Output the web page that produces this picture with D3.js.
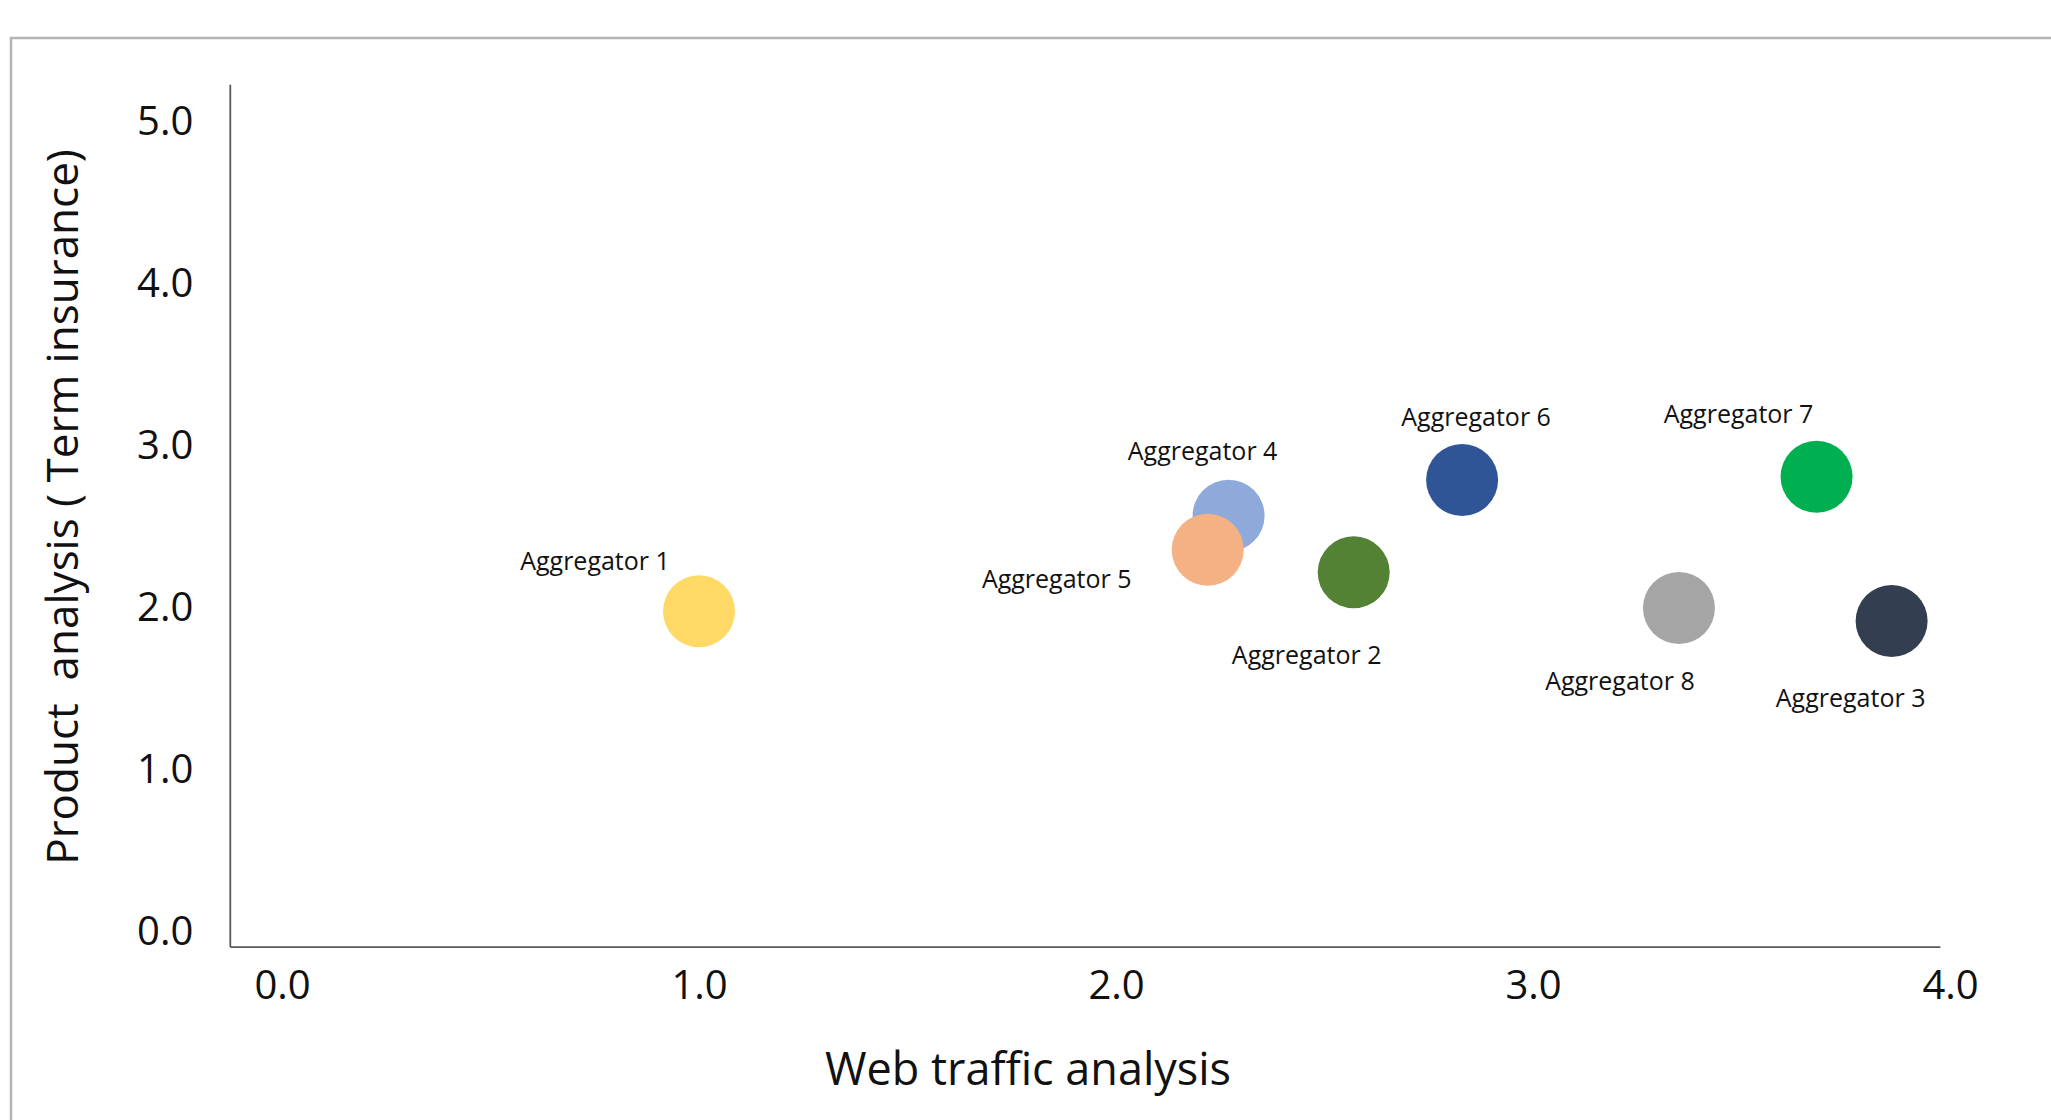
<!DOCTYPE html>
<html>
<head>
<meta charset="utf-8">
<script src="https://cdn.jsdelivr.net/npm/d3@7"></script>
<style>
  body { margin: 0; background: #fff; }
  text { font-family: 'Open Sans', sans-serif; fill: #111; }
</style>
</head>
<body>
<svg id="chart"></svg>
<script>
// data
const names = ['Aggregator 1', 'Aggregator 4', 'Aggregator 5', 'Aggregator 2',
  'Aggregator 6', 'Aggregator 7', 'Aggregator 8', 'Aggregator 3']
const webTraffic = [1.0, 2.27, 2.22, 2.57, 2.83, 3.68, 3.35, 3.86]
const productScore = [1.98, 2.57, 2.36, 2.22, 2.79, 2.81, 2.0, 1.92]
const xTicks = [0, 1, 2, 3, 4]
const yTicks = [0, 1, 2, 3, 4, 5]

// styles / layout
const colors = ['#FFD966', '#8EAADB', '#F4B183', '#548235',
  '#2F5597', '#00B050', '#A5A5A5', '#333F50']
const labelOffset = [[-104, -51], [-26, -66], [-151, 28], [-47, 82],
  [14, -64], [-78, -64], [-59, 72], [-41, 76]]

const width = 2051
const height = 1120
const svg = d3.select('#chart').attr('width', width).attr('height', height)

// outer frame (only top and left edges visible)
svg.append('path')
  .attr('d', `M11,${height} V38 H${width}`)
  .attr('fill', 'none')
  .attr('stroke', '#b4b4b4')
  .attr('stroke-width', 2.5)

// SCALES
const x = d3.scaleLinear().domain([0, 4]).range([282, 1950])
const y = d3.scaleLinear().domain([0, 5]).range([932, 122])

// axis lines
const xExt = [-0.124, 3.977]
const yExt = [-0.093, 5.23]
svg.append('line')
  .attr('x1', x(xExt[0])).attr('x2', x(xExt[0]))
  .attr('y1', y(yExt[1])).attr('y2', y(yExt[0]))
  .attr('stroke', '#595959').attr('stroke-width', 1.8)
svg.append('line')
  .attr('x1', x(xExt[0])).attr('x2', x(xExt[1]))
  .attr('y1', y(yExt[0])).attr('y2', y(yExt[0]))
  .attr('stroke', '#595959').attr('stroke-width', 1.8)

// AXES (labels only)
const fmt = d3.format('.1f')
const xAxis = svg.append('g')
  .attr('transform', `translate(0,${y(yExt[0])})`)
  .call(d3.axisBottom(x).tickValues(xTicks).tickFormat(fmt).tickSize(0).tickPadding(24))
xAxis.select('.domain').remove()
xAxis.selectAll('text').attr('font-size', 40).attr('font-family', 'Open Sans').attr('fill', '#111')

const yAxis = svg.append('g')
  .attr('transform', `translate(${x(xExt[0])},0)`)
  .call(d3.axisLeft(y).tickValues(yTicks).tickFormat(fmt).tickSize(0).tickPadding(37))
yAxis.select('.domain').remove()
yAxis.selectAll('text').attr('font-size', 40).attr('font-family', 'Open Sans').attr('fill', '#111')

// axis titles
svg.append('text')
  .attr('x', 1028).attr('y', 1067)
  .attr('text-anchor', 'middle').attr('dominant-baseline', 'central')
  .attr('font-size', 45)
  .text('Web traffic analysis')
svg.append('text')
  .attr('transform', 'translate(61,507) rotate(-90)')
  .attr('text-anchor', 'middle').attr('dominant-baseline', 'central')
  .attr('font-size', 44)
  .style('white-space', 'pre')
  .text('Product  analysis ( Term insurance)')

// POINTS
const pts = names.map((n, i) => ({ name: n, x: webTraffic[i], y: productScore[i], i }))
svg.append('g').selectAll('circle')
  .data(pts)
  .enter()
  .append('circle')
  .attr('cx', d => x(d.x))
  .attr('cy', d => y(d.y))
  .attr('r', 36)
  .attr('fill', d => colors[d.i])

svg.append('g').selectAll('text')
  .data(pts)
  .enter()
  .append('text')
  .attr('x', d => x(d.x) + labelOffset[d.i][0])
  .attr('y', d => y(d.y) + labelOffset[d.i][1])
  .attr('text-anchor', 'middle').attr('dominant-baseline', 'central')
  .attr('font-size', 25)
  .text(d => d.name)
</script>
</body>
</html>
